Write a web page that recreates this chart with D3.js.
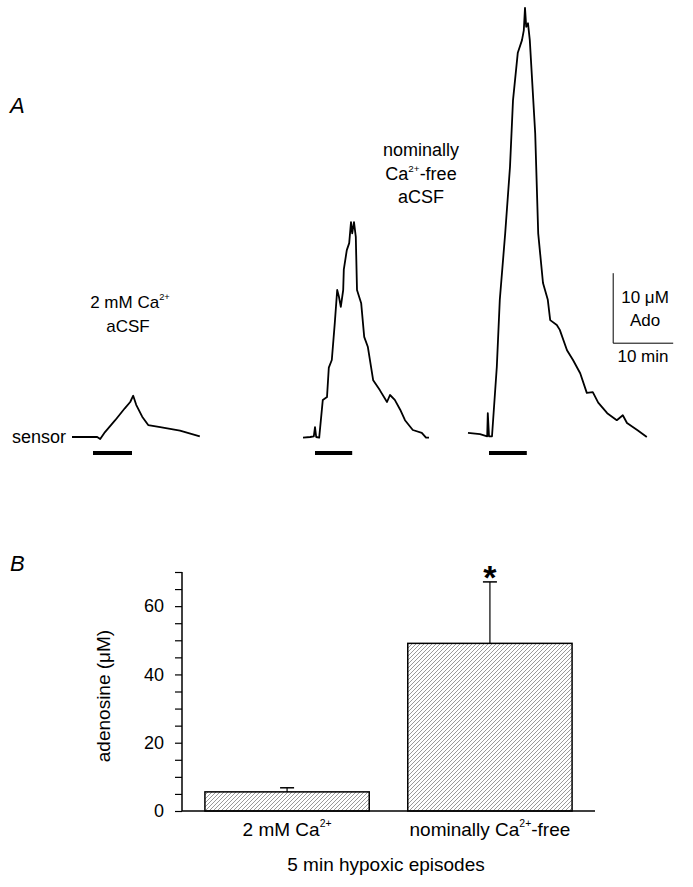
<!DOCTYPE html>
<html>
<head>
<meta charset="utf-8">
<script src="https://cdn.jsdelivr.net/npm/d3@7"></script>
<style>
  body { margin: 0; background: #fff; }
  text { font-family: "Liberation Sans", Arial, sans-serif; fill: #000; }
</style>
</head>
<body>
<script>

var w = 693;
var h = 887;

// Panel A: sensor traces, [time (min), adenosine above baseline (uM)]
var trace1 = [[0, 0], [4.2, 0], [4.7, -0.3], [5.5, 0.7], [7.2, 2.4], [8.8, 4.1], [9.7, 5.0],
    [10.2, 5.9], [10.7, 4.6], [11.7, 2.9], [12.7, 1.7], [14.7, 1.4], [18, 0.9], [21.3, 0.1]];
var trace2 = [[38.5, -0.1], [39.7, 0], [40.3, 0.1], [40.5, 1.4], [40.7, 0], [41.2, -0.1],
    [41.8, 5.3], [42.5, 5.7], [42.8, 9.9], [43.3, 11], [43.8, 16.3], [44.2, 21], [44.5, 20],
    [44.8, 18.6], [45.2, 21], [45.3, 23.9], [45.8, 26.7], [46.2, 27.7], [46.5, 30.7],
    [46.7, 29.1], [47, 30.7], [47.3, 28.6], [47.5, 21], [48.2, 19.1], [48.7, 14.3],
    [49.3, 12.9], [50.2, 8.1], [51.3, 6.7], [52.5, 5], [53, 6], [53.8, 5.3], [54.7, 3.9],
    [55.5, 2.4], [56.8, 1], [58.3, 0.6], [59, -0.1], [59.5, -0.1]];
var trace3 = [[66, 0.6], [68, 0.4], [69.2, 0.1], [69.3, 3.4], [69.5, 0.1], [70, 0.1],
    [70.8, 10], [71.3, 19.6], [72.2, 29.1], [73, 38.6], [73.5, 48.1], [74.3, 54.9],
    [75, 56.7], [75.3, 58.1], [75.5, 61.3], [75.7, 58.6], [76, 59.1], [76.3, 56.7],
    [77.2, 43.4], [77.7, 29.1], [78.5, 22], [79.3, 19.6], [79.7, 16.7], [80.8, 16],
    [81.3, 15.3], [82.5, 12.4], [83.5, 11], [84.7, 9.1], [85.8, 6.3], [86.8, 6.4],
    [87.7, 4.9], [89.2, 3.4], [90.8, 2.4], [91.8, 3.1], [92.5, 2], [94.2, 1], [95.8, 0]];
var stimStart = [3.5, 40.5, 69.5];
var stimEnd = [10, 46.7, 75.8];

// Panel B: bar chart
var categories = ["2 mM Ca", "nominally Ca"];
var catSuffix = ["", "-free"];
var means = [5.6, 49.1];
var sems = [1.2, 18];
var yTicks = d3.range(0, 71, 5);

var svg = d3.select("body")
    .append("svg")
    .attr("width", w)
    .attr("height", h);

svg.append("rect").attr("width", w).attr("height", h).attr("fill", "#fff");

// ---------- Panel A ----------
var xA = d3.scaleLinear().domain([0, 100]).range([72, 672]);
var yA = d3.scaleLinear().domain([0, 60]).range([437, 17]);

var line = d3.line()
    .x(function (d) { return xA(d[0]); })
    .y(function (d) { return yA(d[1]); });

svg.selectAll(".trace")
    .data([trace1, trace2, trace3])
    .enter()
    .append("path")
    .attr("class", "trace")
    .attr("d", line)
    .attr("fill", "none")
    .attr("stroke", "#000")
    .attr("stroke-width", 1.8)
    .attr("stroke-linejoin", "round");

// hypoxia bars
svg.selectAll(".stim")
    .data(stimStart)
    .enter()
    .append("rect")
    .attr("x", function (d) { return xA(d); })
    .attr("y", 451)
    .attr("width", function (d, i) { return xA(stimEnd[i]) - xA(d); })
    .attr("height", 4)
    .attr("fill", "#000");

// scale bar: 10 uM by 10 min
var sbT = 90.2, sbV = 13.4;
svg.append("path")
    .attr("d", "M" + xA(sbT) + "," + yA(sbV + 10) + "V" + yA(sbV) + "H" + xA(sbT + 10))
    .attr("fill", "none")
    .attr("stroke", "#000")
    .attr("stroke-width", 1);

svg.append("text").attr("x", 645).attr("y", 303).attr("text-anchor", "middle")
    .attr("font-size", 17).text("10 \u03bcM");
svg.append("text").attr("x", 645).attr("y", 326).attr("text-anchor", "middle")
    .attr("font-size", 17).text("Ado");
svg.append("text").attr("x", 643).attr("y", 362).attr("text-anchor", "middle")
    .attr("font-size", 17).text("10 min");

svg.append("text").attr("x", 10).attr("y", 113)
    .attr("font-size", 22).attr("font-style", "italic").text("A");

svg.append("text").attr("x", 12).attr("y", 443)
    .attr("font-size", 18).text("sensor");

function caLabel(x, y, pre, post, size) {
    var t = svg.append("text").attr("x", x).attr("y", y)
        .attr("text-anchor", "middle").attr("font-size", size);
    t.append("tspan").text(pre);
    t.append("tspan").attr("font-size", size * 0.55).attr("dy", -size * 0.45).text("2+");
    t.append("tspan").attr("dy", size * 0.45).text(post);
    return t;
}

caLabel(130, 308, "2 mM Ca", "", 17);
svg.append("text").attr("x", 128).attr("y", 332).attr("text-anchor", "middle")
    .attr("font-size", 17).text("aCSF");

svg.append("text").attr("x", 421).attr("y", 156).attr("text-anchor", "middle")
    .attr("font-size", 18).text("nominally");
caLabel(421, 180, "Ca", "-free", 18);
svg.append("text").attr("x", 421).attr("y", 203).attr("text-anchor", "middle")
    .attr("font-size", 18).text("aCSF");

// ---------- Panel B ----------
var defs = svg.append("defs");
var pat = defs.append("pattern")
    .attr("id", "hatch")
    .attr("patternUnits", "userSpaceOnUse")
    .attr("width", 4)
    .attr("height", 4);
pat.append("path")
    .attr("d", "M-1,1 l2,-2 M0,4 l4,-4 M3,5 l2,-2")
    .attr("stroke", "#555")
    .attr("stroke-width", 0.6);

var xB = d3.scaleBand()
    .domain(d3.range(categories.length))
    .range([182, 595])
    .paddingInner(0.19)
    .paddingOuter(0.113);

var yB = d3.scaleLinear()
    .domain([0, 70])
    .range([811, 572]);

svg.selectAll(".bar")
    .data(means)
    .enter()
    .append("rect")
    .attr("class", "bar")
    .attr("x", function (d, i) { return xB(i); })
    .attr("y", function (d) { return yB(d); })
    .attr("width", xB.bandwidth())
    .attr("height", function (d) { return yB(0) - yB(d); })
    .attr("fill", "url(#hatch)")
    .attr("stroke", "#000")
    .attr("stroke-width", 1.5);

// error bars (upper only)
var eb = svg.selectAll(".err")
    .data(means)
    .enter()
    .append("g")
    .attr("class", "err");
eb.append("line")
    .attr("x1", function (d, i) { return xB(i) + xB.bandwidth() / 2; })
    .attr("x2", function (d, i) { return xB(i) + xB.bandwidth() / 2; })
    .attr("y1", function (d) { return yB(d); })
    .attr("y2", function (d, i) { return yB(d + sems[i]); })
    .attr("stroke", "#000").attr("stroke-width", 1.2);
eb.append("line")
    .attr("x1", function (d, i) { return xB(i) + xB.bandwidth() / 2 - 7; })
    .attr("x2", function (d, i) { return xB(i) + xB.bandwidth() / 2 + 7; })
    .attr("y1", function (d, i) { return yB(d + sems[i]); })
    .attr("y2", function (d, i) { return yB(d + sems[i]); })
    .attr("stroke", "#000").attr("stroke-width", 1.5);

svg.append("text")
    .attr("x", xB(1) + xB.bandwidth() / 2)
    .attr("y", yB(means[1] + sems[1]) + 7)
    .attr("text-anchor", "middle")
    .attr("font-size", 34)
    .attr("font-weight", "bold")
    .text("*");

// y axis
var yAxis = d3.axisLeft(yB)
    .tickValues(yTicks)
    .tickSize(7)
    .tickPadding(11)
    .tickFormat(function (d) { return d % 20 === 0 ? d : ""; });

var gy = svg.append("g")
    .attr("transform", "translate(182,0)")
    .call(yAxis);
gy.select(".domain").attr("d", "M0," + yB(70) + "V" + yB(0)).attr("stroke-width", 1.5);
gy.selectAll(".tick line").attr("stroke-width", 1.2);
gy.selectAll("text")
    .attr("font-family", "Liberation Sans, Arial, sans-serif")
    .attr("font-size", 18)
    .attr("fill", "#000");

// x axis baseline
svg.append("line")
    .attr("x1", 182).attr("x2", 595)
    .attr("y1", yB(0)).attr("y2", yB(0))
    .attr("stroke", "#000").attr("stroke-width", 1.5);

categories.forEach(function (c, i) {
    caLabel(xB(i) + xB.bandwidth() / 2, 836, c, catSuffix[i], 19);
});

svg.append("text").attr("x", 386).attr("y", 871).attr("text-anchor", "middle")
    .attr("font-size", 19).text("5 min hypoxic episodes");

svg.append("text")
    .attr("transform", "translate(110,696) rotate(-90)")
    .attr("text-anchor", "middle")
    .attr("font-size", 19)
    .text("adenosine (\u03bcM)");

svg.append("text").attr("x", 10).attr("y", 571)
    .attr("font-size", 22).attr("font-style", "italic").text("B");

</script>
</body>
</html>
